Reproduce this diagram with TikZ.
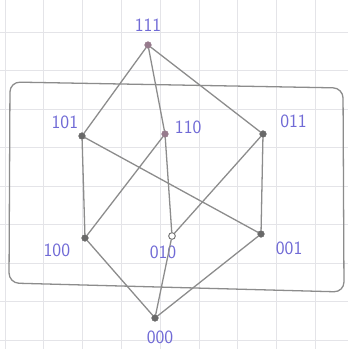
\documentclass[tikz,border=0pt]{standalone}
\usepackage{xcolor}
\usepackage{tikz}
\usetikzlibrary{positioning}
\definecolor{penblue}{RGB}{112,106,214}
\definecolor{pencil}{RGB}{140,140,140}
\definecolor{mauve}{RGB}{150,122,140}
\definecolor{gridgray}{RGB}{228,228,232}
\tikzset{
  vertex/.style={circle, inner sep=0pt, minimum size=0.2cm, fill=pencil!75!black, draw=pencil!75!black},
  hollow/.style={circle, inner sep=0pt, minimum size=0.2cm, draw=pencil!80!black, line width=0.8pt, fill=white},
  lbl/.style={inner sep=1pt, text=penblue, font=\sffamily\fontsize{16}{19}\selectfont},
  edge/.style={draw=pencil, line width=1.1pt, line cap=round},
  frame/.style={draw=pencil, line width=1.1pt, rounded corners=0.3cm},
  gridline/.style={draw=gridgray, line width=0.6pt}
}

\begin{document}
\begin{tikzpicture}[x=0.03cm, y=-0.03cm]
\useasboundingbox[fill=white] (0,0) rectangle (348,349);
% squared paper
\foreach \i in {0,...,8} {
  \draw[gridline] ({5+38.8*\i},0) -- ({5+38.8*\i},349);
  \draw[gridline] (0,{32+38.5*\i}) -- (348,{32+38.5*\i});
}
\draw[frame] (10,82) -- (343,88) -- (344,292) -- (9,283) -- cycle;

% lattice vertices
\node[vertex, fill=mauve, draw=mauve] (v111) at (148,45) {};
\node[vertex] (v101) at (82,136) {};
\node[vertex, fill=mauve, draw=mauve] (v110) at (165,134) {};
\node[vertex] (v011) at (263,134) {};
\node[vertex] (v100) at (85,238) {};
\node[hollow] (v010) at (172,236) {};
\node[vertex] (v001) at (261,234) {};
\node[vertex] (v000) at (155,318) {};

\node[lbl, above=0.26cm of v111] (l111) {111};
\node[lbl, above left=0.1cm and 0cm of v101] (l101) {101};
\node[lbl, right=0.15cm of v110, yshift=0.2cm] (l110) {110};
\node[lbl, above right=0.06cm and 0.4cm of v011] (l011) {011};
\node[lbl, below left=0.06cm and 0.33cm of v100] (l100) {100};
\node[lbl, below=0.15cm of v010, xshift=-0.27cm] (l010) {010};
\node[lbl, below right=0.12cm and 0.33cm of v001] (l001) {001};
\node[lbl, below=0.25cm of v000, xshift=0.15cm] (l000) {000};

\draw[edge] (v111) -- (v101);
\draw[edge] (v111) -- (v110);
\draw[edge] (v111) -- (v011);
\draw[edge] (v101) -- (v100);
\draw[edge] (v101) -- (v001);
\draw[edge] (v110) -- (v100);
\draw[edge] (v110) -- (v010);
\draw[edge] (v011) -- (v010);
\draw[edge] (v011) -- (v001);
\draw[edge] (v100) -- (v000);
\draw[edge] (v010) -- (v000);
\draw[edge] (v001) -- (v000);
\end{tikzpicture}
\end{document}
